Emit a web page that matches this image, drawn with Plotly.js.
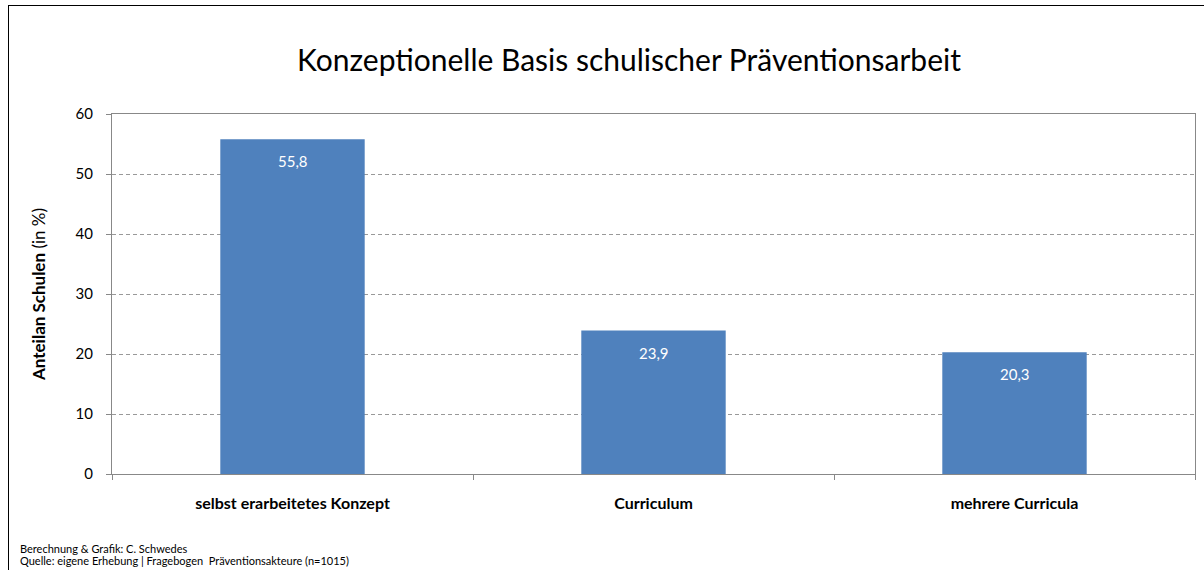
<!DOCTYPE html>
<html><head><meta charset="utf-8">
<script src="https://cdn.plot.ly/plotly-3.0.1.min.js"></script>
<style>
body{margin:0;padding:0;background:#fff;overflow:hidden;}
#chart{width:1204px;height:570px;position:absolute;left:0;top:0;}
#frame{position:absolute;left:8px;top:5px;width:1300px;height:700px;border:1px solid #000;pointer-events:none;}
</style></head>
<body>
<div id="chart"></div>
<div id="frame"></div>
<script>
const categories = ["selbst erarbeitetes Konzept", "Curriculum", "mehrere Curricula"];
const values = [55.8, 23.9, 20.3];
const yTicks = [0, 10, 20, 30, 40, 50, 60];
const footerLines = ["Berechnung & Grafik: C. Schwedes",
                     "Quelle: eigene Erhebung | Fragebogen  Präventionsakteure (n=1015)"];

const FONT = "Lato, 'Liberation Sans', sans-serif";
const L = 112, R = 9, T = 114, B = 96;
const PW = 1204 - L - R, PH = 570 - T - B;

const trace = {
  type: "bar",
  x: categories,
  y: values,
  marker: {color: "#4f81bd"},
  width: 0.4,
  hoverinfo: "none"
};

const labelAnns = categories.map((c, i) => ({
  x: c, y: values[i], xref: "x", yref: "y",
  text: values[i].toFixed(1).replace(".", ","),
  showarrow: false, yanchor: "middle", yshift: -22,
  font: {color: "#ffffff", size: 15, family: FONT}
}));

const footerAnns = footerLines.map((t, i) => ({
  text: t, xref: "paper", yref: "paper",
  x: -(L - 18) / PW, y: -([548, 560][i] - (570 - B)) / PH,
  xanchor: "left", yanchor: "middle", showarrow: false,
  font: {size: 11, family: FONT, color: "#000"}
}));

const layout = {
  width: 1204, height: 570,
  margin: {l: L, r: R, t: T, b: B},
  paper_bgcolor: "#ffffff",
  plot_bgcolor: "#ffffff",
  separators: ",.",
  showlegend: false,
  font: {family: FONT, color: "#000"},
  title: {
    text: "Konzeptionelle Basis schulischer Präventionsarbeit",
    font: {size: 30, family: FONT, color: "#000"},
    x: 629/1204, xanchor: "center", xref: "container",
    y: 1 - 60/570, yanchor: "middle", yref: "container"
  },
  xaxis: {
    type: "category",
    tickson: "boundaries",
    ticks: "outside", ticklen: 5, tickcolor: "#888",
    showline: true, linecolor: "#888", linewidth: 1, mirror: true,
    showgrid: false,
    tickfont: {size: 16, family: FONT, color: "#000", weight: "bold"},
    ticklabelstandoff: 15
  },
  yaxis: {
    range: [0, 60],
    tickvals: yTicks,
    ticks: "outside", ticklen: 5, tickcolor: "#888",
    showline: true, linecolor: "#888", linewidth: 1, mirror: true,
    showgrid: true, gridcolor: "#999", griddash: "4px,3px", gridwidth: 1,
    zeroline: false,
    tickfont: {size: 15, family: FONT, color: "#000"},
    ticklabelstandoff: 10,
    title: {text: "<b>Anteilan Schulen</b> (in %)", font: {size: 17, family: FONT, color: "#000"}, standoff: 25}
  },
  annotations: labelAnns.concat(footerAnns)
};

Plotly.newPlot("chart", [trace], layout, {displayModeBar: false, staticPlot: true});
</script>
</body></html>
